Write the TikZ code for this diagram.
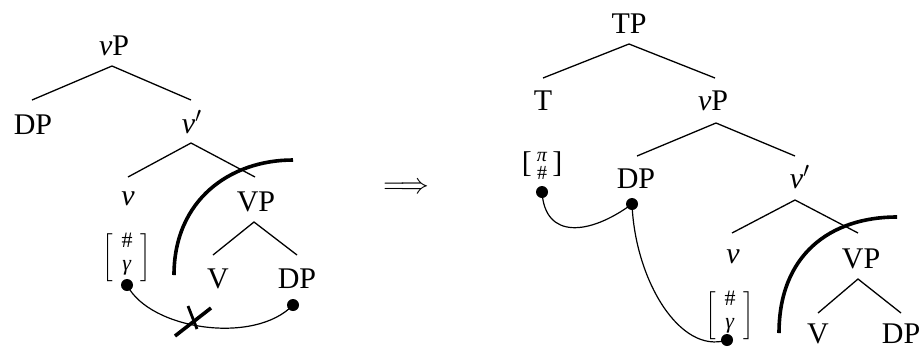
\documentclass[tikz,border=0pt]{standalone}
\usepackage{fontspec}
\setmainfont{Liberation Serif}
\newcommand{\featgam}{$\left[\;\vcenter{\hbox{\rule[-12pt]{0pt}{24pt}\fontsize{11}{11.5}\selectfont\begin{tabular}[c]{@{}c@{}}\#\\\textit{γ}\end{tabular}}}\;\right]$}
\begin{document}
\begin{tikzpicture}[x=0.5pt,y=-0.5pt,
  lbl/.style={anchor=base,inner sep=0pt,font=\fontsize{15}{18}\selectfont},
  feat/.style={anchor=center,inner sep=0pt,font=\fontsize{15}{18}\selectfont},
  branch/.style={line width=0.65pt},
  agree/.style={line width=0.6pt},
  phase/.style={line width=1.8pt},
  probe/.style={circle,fill=black,inner sep=0pt,minimum size=6pt},
  cross/.style={line width=1.8pt}]
\useasboundingbox (0,0) rectangle (924,349);
% ---------- left tree ----------
\node[lbl] (lvP) at (114,55) {\textit{v}P};
\node[lbl] (lDP) at (33,134) {DP};
\node[lbl] (lvb) at (192,133) {\textit{v}$'$};
\node[lbl] (lv) at (128,205) {\textit{v}};
\node[lbl] (lVP) at (256,211) {VP};
\node[lbl] (lV) at (218,288) {V};
\node[lbl] (lDPb) at (297,288) {DP};
\node[feat] (lfeat) at (127,258) {\featgam};
\coordinate (la1) at (112,66); \coordinate (la1l) at (32,100); \coordinate (la1r) at (191,100);
\coordinate (la2) at (191,143); \coordinate (la2l) at (128,177); \coordinate (la2r) at (255,177);
\coordinate (la3) at (254,222); \coordinate (la3l) at (213,255); \coordinate (la3r) at (297,255);
\draw[branch] (la1l) -- (la1) -- (la1r);
\draw[branch] (la2l) -- (la2) -- (la2r);
\draw[branch] (la3l) -- (la3) -- (la3r);
\coordinate (larcA) at (174,275); \coordinate (larcB) at (293,160);
\draw[phase] (larcA) .. controls (174,200) and (230,160) .. (larcB);
\node[probe] (ld1) at (127,285) {};
\node[probe] (ld2) at (293,305) {};
\draw[agree] (ld1.center) .. controls (150,330) and (255,345) .. (ld2.center);
\coordinate (lx1) at (175,336); \coordinate (lx2) at (211,308);
\coordinate (lx3) at (188,306); \coordinate (lx4) at (197,329);
\draw[cross] (lx1) -- (lx2);
\draw[line width=1.4pt] (lx3) -- (lx4);
% ---------- arrow ----------
\node[feat] (arrow) at (406,188) {$\Longrightarrow$};
% ---------- right tree ----------
\node[lbl] (rTP) at (629,33) {TP};
\node[lbl] (rT) at (543,110) {T};
\node[lbl] (rvP) at (713,110) {\textit{v}P};
\node[lbl] (rDP) at (636,188) {DP};
\node[lbl] (rvb) at (800,188) {\textit{v}$'$};
\node[lbl] (rv) at (733,263) {\textit{v}};
\node[lbl] (rVP) at (861,268) {VP};
\node[lbl] (rV) at (818,343) {V};
\node[lbl] (rDPb) at (901,343) {DP};
\node[feat] (rfeat) at (730,316) {\featgam};
\node[feat] (rpi) at (542,167) {[\,{\fontsize{10}{9}\selectfont\begin{tabular}[c]{@{}c@{}}\textit{π}\\\#\end{tabular}}\,]};
\coordinate (ra1) at (629,44); \coordinate (ra1l) at (543,78); \coordinate (ra1r) at (715,78);
\coordinate (ra2) at (716,123); \coordinate (ra2l) at (637,156); \coordinate (ra2r) at (795,156);
\coordinate (ra3) at (795,200); \coordinate (ra3l) at (732,233); \coordinate (ra3r) at (858,233);
\coordinate (ra4) at (858,279); \coordinate (ra4l) at (818,313); \coordinate (ra4r) at (901,313);
\draw[branch] (ra1l) -- (ra1) -- (ra1r);
\draw[branch] (ra2l) -- (ra2) -- (ra2r);
\draw[branch] (ra3l) -- (ra3) -- (ra3r);
\draw[branch] (ra4l) -- (ra4) -- (ra4r);
\coordinate (rarcA) at (779,333); \coordinate (rarcB) at (897,217);
\draw[phase] (rarcA) .. controls (779,255) and (830,217) .. (rarcB);
\node[probe] (rd1) at (542,192) {};
\node[probe] (rd2) at (632,204) {};
\node[probe] (rd3) at (727,340) {};
\draw[agree] (rd1.center) .. controls (545,240) and (590,235) .. (rd2.center);
\draw[agree] (rd2.center) .. controls (635,280) and (680,355) .. (rd3.center);
\end{tikzpicture}
\end{document}
